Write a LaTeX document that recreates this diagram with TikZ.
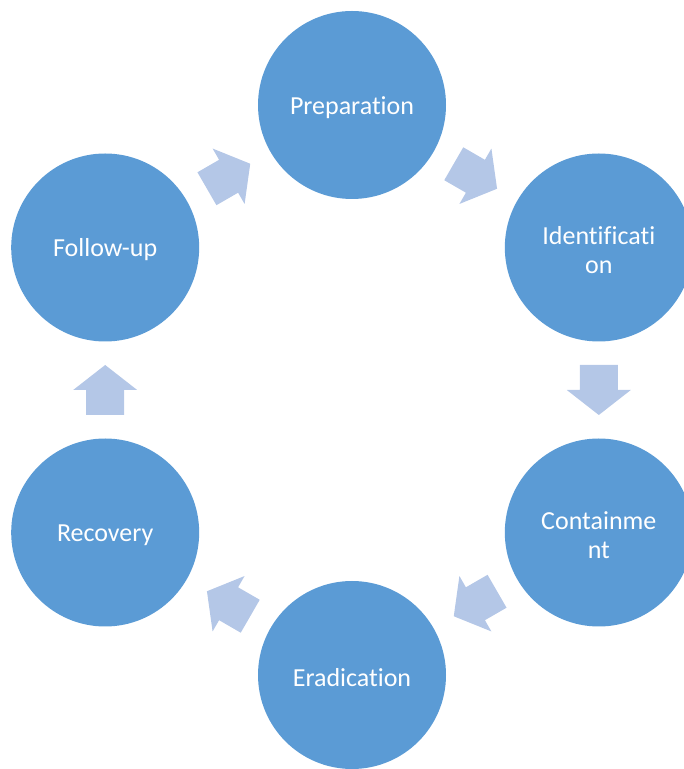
\documentclass[tikz,border=0pt]{standalone}
\usepackage{fontspec}
\setmainfont[Ligatures={NoCommon}]{Carlito}
\usetikzlibrary{calc}
\definecolor{stagefill}{HTML}{5B9BD5}
\definecolor{flowfill}{HTML}{B4C7E7}
\tikzset{
  stage/.style={circle, fill=stagefill, minimum size=188pt, inner sep=0pt,
    label={[stagetext]center:#1}},
  stagetext/.style={text=white, align=center, yshift=-2.5pt,
    font=\fontsize{26}{29}\selectfont},
  blockarrow/.pic={
    \fill[flowfill] (-25,-19) -- (0,-19) -- (0,-32) -- (25,0) -- (0,32)
      -- (0,19) -- (-25,19) -- cycle;
  }
}
\begin{document}
\begin{tikzpicture}[x=1pt,y=1pt]
  \useasboundingbox (0,0) rectangle (684,769);
  \clip (0,0) rectangle (684,769);
  % six stages around a hexagon
  \coordinate (hub) at (352,379);
  \node[stage={Preparation}]      (prep)   at ($(hub)+(90:285)$)   {};
  \node[stage={Identificati\\on}] (ident)  at ($(hub)+(30:285)$)   {};
  \node[stage={Containme\\nt}]    (cont)   at ($(hub)+(-30:285)$)  {};
  \node[stage={Eradication}]      (erad)   at ($(hub)+(-90:285)$)  {};
  \node[stage={Recovery}]         (recov)  at ($(hub)+(-150:285)$) {};
  \node[stage={Follow-up}]        (follow) at ($(hub)+(150:285)$)  {};
  % block arrows halfway between consecutive stages
  \foreach \a/\b in {prep/ident, ident/cont, cont/erad, erad/recov, recov/follow, follow/prep}{
    \path let \p1=($(\b)-(\a)$), \n1={atan2(\y1,\x1)} in
      ($(\a)!0.5!(\b)$) pic[rotate=\n1] {blockarrow};
  }
\end{tikzpicture}
\end{document}
